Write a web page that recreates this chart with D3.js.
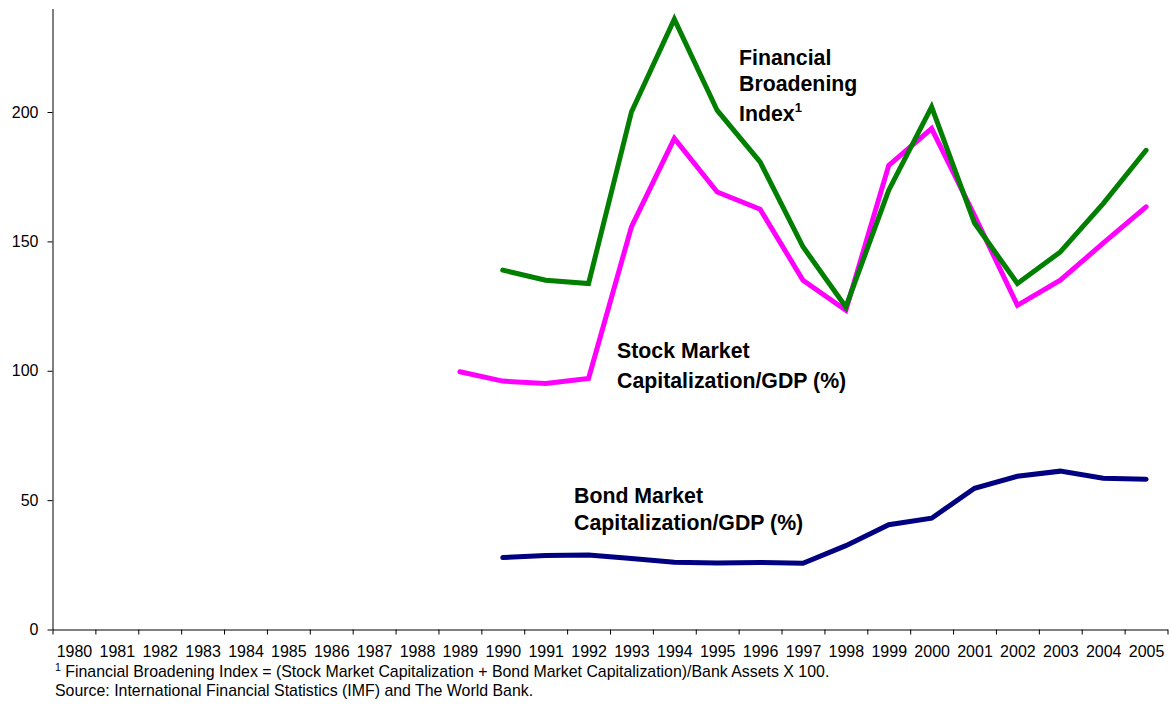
<!DOCTYPE html>
<html>
<head>
<meta charset="utf-8">
<script src="https://cdn.jsdelivr.net/npm/d3@7"></script>
<style>
  body { margin: 0; background: #fff; }
  svg { display: block; font-family: "Liberation Sans", Arial, sans-serif; }
  .axis path, .axis line { stroke: #000; stroke-width: 1; }
  .label { font-weight: bold; font-size: 21.3px; fill: #000; }
  .note { font-size: 15.9px; fill: #000; }
</style>
</head>
<body>
<div id="chart"></div>
<script>
const WIDTH = 1171;
const HEIGHT = 704;
const PLOT = { LEFT: 52.5, RIGHT: 1167.5, TOP: 8.5, BOTTOM: 629.5 };

const years = d3.range(1980, 2006);
const yTicks = [0, 50, 100, 150, 200];

// Stock Market Capitalization/GDP (%), 1989-2005
const stockYears = d3.range(1989, 2006);
const stockValues = [99.6, 96, 95.1, 97, 155.6, 189.8, 169.1, 162.4, 135, 123.4, 179.4, 193.6, 160, 125.3, 135, 149.3, 163.3];

// Financial Broadening Index, 1990-2005
const fbiYears = d3.range(1990, 2006);
const fbiValues = [138.9, 135, 133.7, 200, 235.9, 200.6, 180.7, 147.9, 124.7, 169.8, 202, 157.1, 133.7, 145.9, 164.6, 185.2];

// Bond Market Capitalization/GDP (%), 1990-2005
const bondYears = d3.range(1990, 2006);
const bondValues = [27.8, 28.6, 28.8, 27.4, 26, 25.7, 25.9, 25.6, 32.4, 40.5, 43, 54.6, 59.2, 61.2, 58.5, 58.1];

const COLORS = { stock: "#ff00ff", fbi: "#007f00", bond: "#000080" };

let svg = d3.select("#chart")
    .append("svg")
    .attr("width", WIDTH)
    .attr("height", HEIGHT);

// scales: each year sits in the middle of its own slot, ticks fall between slots
let x = d3.scaleLinear()
    .domain([1979.5, 2005.5])
    .range([PLOT.LEFT, PLOT.RIGHT]);

let y = d3.scaleLinear()
    .domain([0, 240])
    .range([PLOT.BOTTOM, PLOT.TOP]);

function styleAxis(g) {
    g.attr("font-family", null).attr("font-size", null);
    g.selectAll("text")
        .style("font-family", '"Liberation Sans", Arial, sans-serif')
        .style("font-size", "16px")
        .style("fill", "#000");
}

// x-axis: tick marks on the slot borders
svg.append("g")
    .attr("class", "axis")
    .attr("transform", `translate(0,${PLOT.BOTTOM})`)
    .call(d3.axisBottom(x)
        .tickValues(d3.range(1979.5, 2006, 1))
        .tickFormat("")
        .tickSize(5)
        .tickSizeOuter(0));

// x-axis: year labels in the slot middles
svg.append("g")
    .attr("class", "axis")
    .attr("transform", `translate(0,${PLOT.BOTTOM})`)
    .call(d3.axisBottom(x)
        .tickValues(years)
        .tickFormat(d3.format("d"))
        .tickSize(0)
        .tickPadding(16.5))
    .call(g => g.select(".domain").remove())
    .call(styleAxis);

// y-axis
svg.append("g")
    .attr("class", "axis")
    .attr("transform", `translate(${PLOT.LEFT},0)`)
    .call(d3.axisLeft(y)
        .tickValues(yTicks)
        .tickSize(5)
        .tickSizeOuter(0)
        .tickPadding(9))
    .call(styleAxis);

// lines
let line = d3.line()
    .x(d => x(d[0]))
    .y(d => y(d[1]));

function drawLine(xs, vs, color) {
    svg.append("path")
        .datum(d3.zip(xs, vs))
        .attr("fill", "none")
        .attr("stroke", color)
        .attr("stroke-width", 5)
        .attr("stroke-linecap", "round")
        .attr("stroke-linejoin", "miter")
        .attr("d", line);
}

drawLine(bondYears, bondValues, COLORS.bond);
drawLine(stockYears, stockValues, COLORS.stock);
drawLine(fbiYears, fbiValues, COLORS.fbi);

// series labels
function addLabel(px, py, lines, gap) {
    let t = svg.append("text")
        .attr("class", "label")
        .attr("x", px)
        .attr("y", py);
    lines.forEach((l, i) => {
        t.append("tspan")
            .attr("x", px)
            .attr("dy", i === 0 ? 0 : gap[i - 1])
            .text(l.text);
        if (l.sup) {
            t.append("tspan")
                .attr("font-size", "13px")
                .attr("dy", -9)
                .text(l.sup);
        }
    });
}

addLabel(739, 65, [{ text: "Financial" }, { text: "Broadening" }, { text: "Index", sup: "1" }], [26, 30]);
addLabel(617, 358, [{ text: "Stock Market" }, { text: "Capitalization/GDP (%)" }], [30]);
addLabel(574, 503, [{ text: "Bond Market" }, { text: "Capitalization/GDP (%)" }], [27]);

// footnotes
let note = svg.append("text")
    .attr("class", "note")
    .attr("x", 55)
    .attr("y", 677);
note.append("tspan")
    .attr("font-size", "10.5px")
    .attr("dy", -6)
    .text("1");
note.append("tspan")
    .attr("dy", 6)
    .text(" Financial Broadening Index = (Stock Market Capitalization + Bond Market Capitalization)/Bank Assets X 100.");

svg.append("text")
    .attr("class", "note")
    .attr("x", 55)
    .attr("y", 696)
    .text("Source: International Financial Statistics (IMF) and The World Bank.");
</script>
</body>
</html>
